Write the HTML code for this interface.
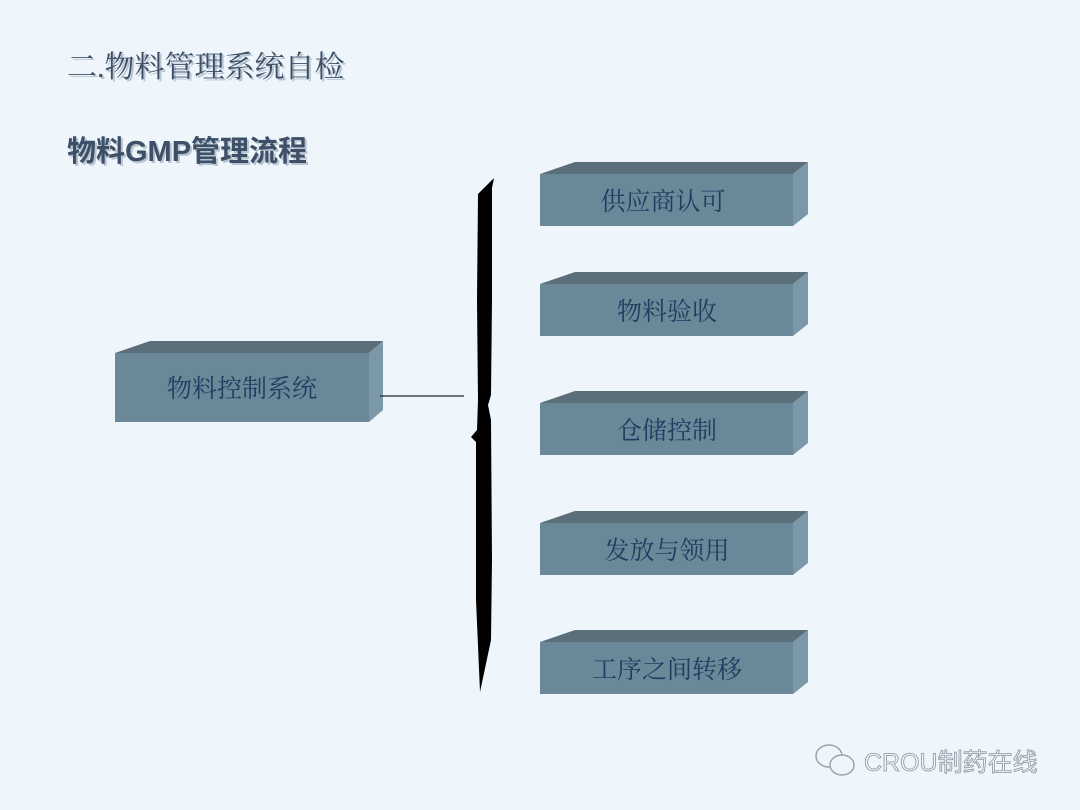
<!DOCTYPE html>
<html><head><meta charset="utf-8"><style>
body{margin:0;background:#eef6fc;}
svg{display:block}
text{font-family:"Liberation Serif","Noto Serif CJK SC",serif;}
</style></head><body>
<svg width="1080" height="810" viewBox="0 0 1080 810">
<rect width="1080" height="810" fill="#eef6fc"/>
<text x="69" y="79" font-size="30" fill="#b8c4d0">二.物料管理系统自检</text>
<text x="67" y="77" font-size="30" fill="#3e5068">二.物料管理系统自检</text>
<text x="69" y="163" font-size="29" fill="#b8c4d0" font-weight="bold" style="font-family:'Liberation Sans','Noto Sans CJK SC',sans-serif">物料GMP管理流程</text>
<text x="67" y="161" font-size="29" fill="#3e5068" font-weight="bold" style="font-family:'Liberation Sans','Noto Sans CJK SC',sans-serif">物料GMP管理流程</text>

<g>
<polygon points="115,353 150,341 383,341 369,353" fill="#5b6f7b"/>
<polygon points="369,353 383,341 383,410 369,422" fill="#7b98a8"/>
<rect x="115" y="353" width="254" height="69" fill="#6b8898"/>
<text x="242" y="397" font-size="25" fill="#1f3d60" text-anchor="middle">物料控制系统</text>
</g>
<line x1="380" y1="396" x2="464" y2="396" stroke="#1a2a3a" stroke-width="1.2"/>

<path d="M494,178 L478,194 L477,300 L478,400 L477,430 L471,437 L476,442 L476,540 L476,600 L480,692 L491,640 L492,560 L491,420 L488,405 L491,395 L492,300 L492,188 Z" fill="#000"/>

<g>
<polygon points="540,174 575,162 808,162 793,174" fill="#5b6f7b"/>
<polygon points="793,174 808,162 808,214 793,226" fill="#7b98a8"/>
<rect x="540" y="174" width="253" height="52" fill="#6b8898"/>
<text x="663" y="210" font-size="25" fill="#1f3d60" text-anchor="middle">供应商认可</text>
</g>
<g transform="translate(0,110)">
<polygon points="540,174 575,162 808,162 793,174" fill="#5b6f7b"/>
<polygon points="793,174 808,162 808,214 793,226" fill="#7b98a8"/>
<rect x="540" y="174" width="253" height="52" fill="#6b8898"/>
<text x="667" y="210" font-size="25" fill="#1f3d60" text-anchor="middle">物料验收</text>
</g>
<g transform="translate(0,229)">
<polygon points="540,174 575,162 808,162 793,174" fill="#5b6f7b"/>
<polygon points="793,174 808,162 808,214 793,226" fill="#7b98a8"/>
<rect x="540" y="174" width="253" height="52" fill="#6b8898"/>
<text x="667" y="210" font-size="25" fill="#1f3d60" text-anchor="middle">仓储控制</text>
</g>
<g transform="translate(0,349)">
<polygon points="540,174 575,162 808,162 793,174" fill="#5b6f7b"/>
<polygon points="793,174 808,162 808,214 793,226" fill="#7b98a8"/>
<rect x="540" y="174" width="253" height="52" fill="#6b8898"/>
<text x="667" y="210" font-size="25" fill="#1f3d60" text-anchor="middle">发放与领用</text>
</g>
<g transform="translate(0,468)">
<polygon points="540,174 575,162 808,162 793,174" fill="#5b6f7b"/>
<polygon points="793,174 808,162 808,214 793,226" fill="#7b98a8"/>
<rect x="540" y="174" width="253" height="52" fill="#6b8898"/>
<text x="667" y="210" font-size="25" fill="#1f3d60" text-anchor="middle">工序之间转移</text>
</g>

<g fill="none" stroke="#9aa4ae" stroke-width="1.5">
<ellipse cx="829" cy="756" rx="13" ry="11"/>
<ellipse cx="842" cy="765" rx="12" ry="10" fill="#eef6fc"/>
</g>
<text x="864" y="771" font-size="25" fill="#f6f8fa" stroke="#8a949e" stroke-width="0.8" style="font-family:'Liberation Sans','Noto Sans CJK SC',sans-serif">CROU制药在线</text>
</svg>
</body></html>
